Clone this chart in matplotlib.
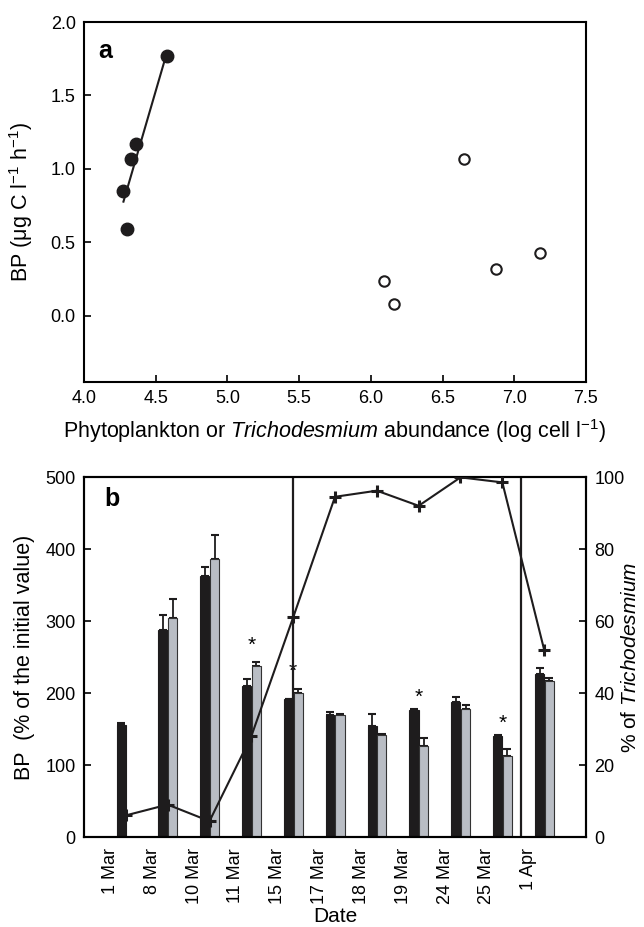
import numpy as np
import matplotlib.pyplot as plt

plt.rcParams['font.family'] = ['Liberation Sans', 'DejaVu Sans']
plt.rcParams['mathtext.fontset'] = 'custom'
plt.rcParams['mathtext.rm'] = 'Liberation Sans'
plt.rcParams['mathtext.it'] = 'Liberation Sans:italic'
plt.rcParams['mathtext.default'] = 'regular'

# panel a data
phyto_x = [4.275, 4.30, 4.327, 4.36, 4.58]
phyto_bp = [0.85, 0.59, 1.07, 1.17, 1.77]
tricho_x = [6.09, 6.16, 6.65, 6.875, 7.18]
tricho_bp = [0.24, 0.08, 1.07, 0.32, 0.43]

# panel b data
dates = ['1 Mar', '8 Mar', '10 Mar', '11 Mar', '15 Mar', '17 Mar',
         '18 Mar', '19 Mar', '24 Mar', '25 Mar', '1 Apr']
bp_black = [156, 288, 363, 210, 191, 170, 154, 177, 188, 140, 226]
bp_black_top = [159, 308, 375, 220, 191, 174, 171, 178, 195, 141, 235]
bp_grey = [np.nan, 304, 386, 238, 200, 170, 142, 126, 178, 113, 216]
bp_grey_top = [np.nan, 330, 419, 243.5, 205.5, 171, 143, 138, 183, 122, 221]
pct_tricho = [6, 9, 4.4, 28, 61, 94.5, 96.2, 92, 99.9, 98.5, 52]
star_idx = [3, 4, 7, 9]
star_y = [266, 230, 194, 158]
periods = [4, 9.45]

blk = '#1e1c1d'
gry = '#b9bdc4'

fig = plt.figure(figsize=(6.44, 9.27), dpi=100)
W, H = 644, 927
ax1 = fig.add_axes([84 / W, 1 - 382 / H, 502 / W, 360 / H])
ax2 = fig.add_axes([84 / W, 1 - 837 / H, 502 / W, 360 / H])

# ---- panel a
ax1.plot(phyto_x, phyto_bp, 'o', color=blk, ms=9)
ax1.plot(tricho_x, tricho_bp, 'o', mfc='white', mec=blk, mew=1.5, ms=7.5)
k, b0 = np.polyfit(phyto_x, phyto_bp, 1)
xf = np.array([min(phyto_x), max(phyto_x)])
ax1.plot(xf, k * xf + b0, color=blk, lw=1.5)
ax1.set_xlim(4.0, 7.5)
ax1.set_ylim(-0.45, 2.0)
ax1.set_xticks(np.arange(4.0, 7.51, 0.5))
ax1.set_yticks(np.arange(0, 2.01, 0.5))
ax1.set_xticklabels(['%.1f' % v for v in np.arange(4.0, 7.51, 0.5)])
ax1.set_yticklabels(['%.1f' % v for v in np.arange(0, 2.01, 0.5)])
ax1.tick_params(direction='in', length=5, width=1.2, labelsize=13, pad=6)
ax1.set_xlabel(r'Phytoplankton or $\it{Trichodesmium}$ abundance (log cell l$^{-1}$)', fontsize=15.5)
ax1.set_ylabel(r'BP ($\mu$g C l$^{-1}$ h$^{-1}$)', fontsize=15.5)
ax1.xaxis.set_label_coords(0.5, -0.097)
ax1.yaxis.set_label_coords(-0.098, 0.5)
ax1.text(0.042, 0.92, 'a', transform=ax1.transAxes, fontsize=18,
         fontweight='bold', ha='center', va='center')
for s in ax1.spines.values():
    s.set_linewidth(1.5)

# ---- panel b
x = np.arange(len(dates))
w = 0.22
ax2.bar(x - 0.11, bp_black, w, color=blk, edgecolor=blk, lw=0.8, zorder=2)
ax2.bar(x + 0.12, bp_grey, w, color=gry, edgecolor='#333333', lw=0.8, zorder=2)
err_b = np.array(bp_black_top) - np.array(bp_black)
err_g = np.array(bp_grey_top) - np.array(bp_grey)
ax2.errorbar(x - 0.11, bp_black, yerr=[np.zeros_like(err_b), err_b], fmt='none',
             ecolor=blk, elinewidth=1.3, capsize=3, capthick=1.5, zorder=1)
ax2.errorbar(x + 0.12, bp_grey, yerr=[np.zeros_like(err_g), err_g], fmt='none',
             ecolor=blk, elinewidth=1.3, capsize=3, capthick=1.5, zorder=1)
for i, yv in zip(star_idx, star_y):
    ax2.text(x[i], yv, '*', fontsize=15, ha='center', va='center')
for p in periods:
    ax2.axvline(p, color=blk, lw=1.6, zorder=3)
ax2.set_xlim(-1, 11)
ax2.set_ylim(0, 500)
ax2.set_yticks(np.arange(0, 501, 100))
ax2.set_xticks(x - 0.37)
ax2.set_xticklabels(dates, rotation=90)
ax2.tick_params(axis='x', length=0, labelsize=13, pad=8)
ax2.tick_params(axis='y', direction='in', length=5, width=1.2, labelsize=13, pad=6)
ax2.set_ylabel('BP  (% of the initial value)', fontsize=15.5)
ax2.yaxis.set_label_coords(-0.098, 0.5)
ax2.set_xlabel('Date', fontsize=15)
ax2.xaxis.set_label_coords(0.5, -0.195)
ax2.text(0.056, 0.94, 'b', transform=ax2.transAxes, fontsize=18,
         fontweight='bold', ha='center', va='center')
for s in ax2.spines.values():
    s.set_linewidth(1.5)

ax3 = ax2.twinx()
ax3.plot(x, pct_tricho, color=blk, lw=1.5, marker='+', ms=9, mew=2.2, zorder=4)
ax3.set_ylim(0, 100)
ax3.set_yticks(np.arange(0, 101, 20))
ax3.tick_params(direction='in', length=5, width=1.2, labelsize=13, pad=6)
ax3.set_ylabel(r'% of $\it{Trichodesmium}$', fontsize=15)
ax3.yaxis.set_label_coords(1.07, 0.5)
for s in ax3.spines.values():
    s.set_linewidth(1.5)

fig.savefig('out.png', dpi=100)
